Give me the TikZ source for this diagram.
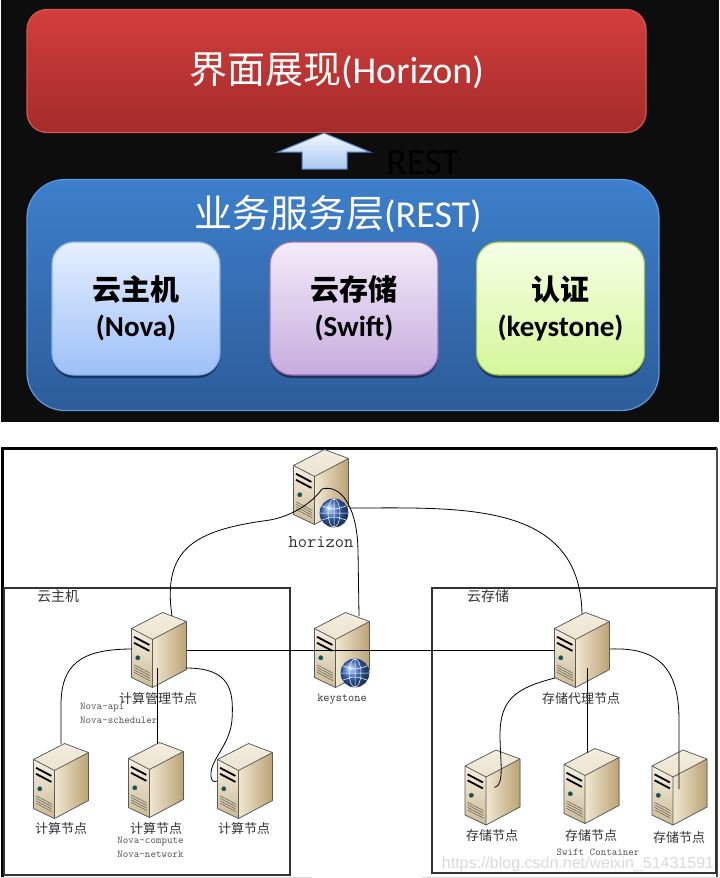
\documentclass[tikz,border=0pt]{standalone}
\usepackage{fontspec}
\setmainfont{Carlito}
\newfontfamily\cjk{Noto Sans CJK SC}
\newfontfamily\wmfont{Liberation Sans}
\usepackage{tikz}
\usetikzlibrary{shadows}
\newcommand{\titlesize}{\fontsize{38}{40}\selectfont}
\definecolor{bgdark}{HTML}{0D0D0D}
\definecolor{uitop}{HTML}{D23E3C}
\definecolor{uibot}{HTML}{A52B2B}
\definecolor{uiedge}{HTML}{D95552}
\definecolor{svctop}{HTML}{3D7FCB}
\definecolor{svcbot}{HTML}{2D5C99}
\definecolor{svcedge}{HTML}{5C9BE2}
\definecolor{novatop}{HTML}{E6EFFF}
\definecolor{novabot}{HTML}{9DC0F7}
\definecolor{novaedge}{HTML}{86AEEB}
\definecolor{swifttop}{HTML}{F3EBF9}
\definecolor{swiftbot}{HTML}{C7ACDE}
\definecolor{swiftedge}{HTML}{9C70BC}
\definecolor{keytop}{HTML}{F5FFE6}
\definecolor{keybot}{HTML}{D5F69A}
\definecolor{keyedge}{HTML}{97C24C}
\definecolor{arrtop}{HTML}{F2F7FF}
\definecolor{arrbot}{HTML}{A9C9F1}
\definecolor{arredge}{HTML}{4D7FC0}
\definecolor{srvtop}{HTML}{F4EEDF}
\definecolor{srvfront}{HTML}{F6F0E2}
\definecolor{srvside}{HTML}{F0E7D2}
\definecolor{srvdark}{HTML}{BBA373}
\definecolor{srvline}{HTML}{5A5A5A}
\definecolor{globeblue}{HTML}{3F74D0}
\definecolor{globeedge}{HTML}{1E3C7E}
\definecolor{labelgray}{HTML}{333333}
\definecolor{svcgray}{HTML}{555555}
\definecolor{markgray}{HTML}{DADADA}
\tikzset{
  every picture/.style = {
    x = 1pt,
    y = -1pt,
  }
  , % big boxes of the layers
  panel/.style = {
    rounded corners = #1,
    line width = 1.2pt,
    inner sep = 0pt,
    text = white
  }
  , % service boxes inside the layer
  tile/.style = {
    rounded corners = 22pt,
    line width = 1.2pt,
    minimum width = 168,
    minimum height = 133,
    align = center,
    font = \bfseries\fontsize{29}{36}\selectfont,
    drop shadow = {shadow xshift=0pt, shadow yshift=-3pt, opacity=0.45, fill=black}
  }
  ,
  uparrow/.style = {
    draw = arredge,
    line width = 1pt,
    top color = arrtop,
    bottom color = arrbot
  }
  ,
  group/.style = {
    draw = black!80,
    line width = 1.2pt
  }
  ,
  link/.style = {
    draw,
    line width = 0.8pt
  }
  , % labels of groups
  grouplabel/.style = {
    font = \cjk\fontsize{14}{14}\selectfont,
    text = labelgray,
    inner sep = 0pt
  }
  , % labels of servers
  cnlabel/.style = {
    font = \cjk\fontsize{13}{13}\selectfont,
    text = labelgray,
    inner sep = 0pt
  }
  ,
  hostlabel/.style = {
    text = labelgray,
    inner sep = 0pt
  }
  , % services running on a server
  svclabel/.style = {
    font = \ttfamily\fontsize{10.5}{13.5}\selectfont,
    text = svcgray,
    inner sep = 0pt
  }
  ,
  marklabel/.style = {
    font = \wmfont\fontsize{16}{16}\selectfont,
    text = markgray,
    inner sep = 0pt
  }
  ,
  server/.pic = {
    \fill[top color=srvtop, bottom color=srvtop!85!srvdark]
      (3.5,-37.5) -- (-27.5,-21.5) -- (-6.5,-10.5) -- (27.5,-28.5) -- cycle;
    \fill[top color=srvfront, bottom color=srvdark!70!srvfront]
      (-27.5,-21.5) -- (-6.5,-10.5) -- (-6.5,37.5) -- (-27.5,27.5) -- cycle;
    \fill[left color=srvside, right color=srvdark]
      (-6.5,-10.5) -- (27.5,-28.5) -- (27.5,19.5) -- (-6.5,37.5) -- cycle;
    \draw[srvline, line width=0.7pt, line join=round]
      (3.5,-37.5) -- (-27.5,-21.5) -- (-27.5,27.5) -- (-6.5,37.5) -- (27.5,19.5) -- (27.5,-28.5) -- cycle
      (-27.5,-21.5) -- (-6.5,-10.5) -- (27.5,-28.5)
      (-6.5,-10.5) -- (-6.5,37.5);
    % drive bays
    \draw[line width=1.8pt] (-25,-13.2) -- (-9.6,-5.1);
    \draw[line width=1.8pt] (-25,-7.2) -- (-9.6,0.9);
    \filldraw[fill=teal!70!black, draw=srvline, line width=0.4pt] (-21.2,7.8) circle (2.2);
    \foreach \v in {35,37.5,40,42.5}
      \draw[srvline, line width=0.5pt] (-25,-20.2+\v) -- (-9,-11.8+\v);
    \coordinate (-c) at (0,0);
  }
  ,
  netglobe/.pic = {
    \shade[ball color=globeblue] (0,0) circle (14);
    \draw[globeedge, line width=0.8pt] (0,0) circle (14);
    \draw[white, line width=0.5pt] (0,0) ellipse (6 and 14) (0,-14) -- (0,14) (-14,0) -- (14,0)
      (-12,-7) .. controls (0,-3) .. (12,-7) (-12,7) .. controls (0,3) .. (12,7);
  }
}
\begin{document}
\begin{tikzpicture}
  \useasboundingbox (0,0) rectangle (720,878);
  \fill[white] (0,0) rectangle (720,878);
  \fill[bgdark] (1,0) rectangle (718.5,422);

  % layers
  \node at (336.5,71) [panel=20, draw=uiedge, top color=uitop, bottom color=uibot,
    minimum width=619, minimum height=123, font=\titlesize] (ui) {{\cjk 界面展现}(Horizon)};
  \node at (343,295) [panel=38, draw=svcedge, top color=svctop, bottom color=svcbot,
    minimum width=632, minimum height=231] (svc) {};
  \node at (338,214) [font=\titlesize, text=white] (svct) {{\cjk 业务服务层}(REST)};
  \node at (136,308.5) [tile, draw=novaedge, top color=novatop, bottom color=novabot] (nova) {{\cjk 云主机}\\(Nova)};
  \node at (354,308.5) [tile, draw=swiftedge, top color=swifttop, bottom color=swiftbot] (swift) {{\cjk 云存储}\\(Swift)};
  \node at (560.5,308.5) [tile, draw=keyedge, top color=keytop, bottom color=keybot] (key) {{\cjk 认证}\\(keystone)};
  \draw[uparrow] (324,133) -- (370,152) -- (347,152) -- (347,169) -- (302,169) -- (302,152) -- (278,152) -- cycle;
  \node at (423,162.5) [font=\fontsize{37}{40}\selectfont, text=black] (rest) {REST};

  % deployment
  \draw[line width=3pt] (2,878) -- (2,448) -- (717,448);
  \draw[line width=2.5pt, black!70] (717,448) -- (717,878);
  \draw[group] (4,588) rectangle (290,875);
  \draw[group] (432,588) rectangle (716,873);
  \draw[black!15] (0,877.5) -- (312,877.5) (422,877.5) -- (718,877.5);
  \node at (58,596) [grouplabel] (vmg) {云主机};
  \node at (488,596) [grouplabel] (stg) {云存储};

  \pic (hz) at (321,487) {server};
  \pic (mg) at (159,650) {server};
  \pic (ks) at (342,650) {server};
  \pic (pr) at (582,650) {server};
  \pic (c1) at (61,781) {server};
  \pic (c2) at (156,780) {server};
  \pic (c3) at (245,781) {server};
  \pic (s1) at (492.5,787.5) {server};
  \pic (s2) at (591.5,786) {server};
  \pic (s3) at (679.5,787.5) {server};
  \pic at ([shift={(13,26)}]hz-c) {netglobe};
  \pic at ([shift={(13,23)}]ks-c) {netglobe};

  \draw[link] ([shift={(1,2)}]hz-c) .. controls (312,503) and (292,516) .. (270,520)
    .. controls (195,530) and (162,548) .. ([shift={(13,-34)}]mg-c);
  \draw[link] ([shift={(1,2)}]hz-c) .. controls (340,484) and (357,505) .. (358,550)
    -- ([shift={(17,-34)}]ks-c);
  \draw[link] ([shift={(28,21)}]hz-c) .. controls (460,508) and (580,500) .. ([shift={(0,-36)}]pr-c);
  \path ([shift={(27.5,0)}]mg-c) edge [link] ([shift={(-27.5,0)}]pr-c);
  \draw[link] ([shift={(-27,-1)}]mg-c) .. controls (80,649) and (61,665) .. (61,705)
    -- ([shift={(0,-37)}]c1-c);
  \path ([shift={(-2,18)}]mg-c) edge [link] ([shift={(1,-36)}]c2-c);
  \draw[link] ([shift={(27,18)}]mg-c) .. controls (230,668) and (234,690) .. (232,720)
    .. controls (230,745) and (210,760) .. (211,775)
    .. controls (211,782) and (214,782) .. ([shift={(-28,0)}]c3-c);
  \draw[link] ([shift={(-27,28)}]pr-c) .. controls (515,688) and (500,700) .. (500,735)
    .. controls (500,760) and (505,785) .. ([shift={(2,0)}]s1-c);
  \path ([shift={(5,18)}]pr-c) edge [link] ([shift={(-4.5,-33)}]s2-c);
  \draw[link] ([shift={(28,-1)}]pr-c) .. controls (660,647) and (679,670) .. (679,720)
    -- ([shift={(-0.5,1.5)}]s3-c);

  \node at (321,542) [hostlabel, font=\ttfamily\fontsize{18}{18}\selectfont] (hzl) {horizon};
  \node at (158,699) [cnlabel] (mgl) {计算管理节点};
  \node at (80,703) [svclabel, anchor=north west, align=left] (mgs) {Nova-api\\Nova-scheduler};
  \node at (342,699) [hostlabel, font=\ttfamily\fontsize{12}{12}\selectfont] (ksl) {keystone};
  \node at (581,699) [cnlabel] (prl) {存储代理节点};
  \node at (61,829) [cnlabel] (c1l) {计算节点};
  \node at (156,829) [cnlabel] (c2l) {计算节点};
  \node at (244,829) [cnlabel] (c3l) {计算节点};
  \node at (150.5,847.5) [svclabel, align=center] (c2s) {Nova-compute\\Nova-network};
  \node at (492,836) [cnlabel] (s1l) {存储节点};
  \node at (591,836) [cnlabel] (s2l) {存储节点};
  \node at (679,837.5) [cnlabel] (s3l) {存储节点};
  \node at (578,864.5) [marklabel] (wm) {https://blog.csdn.net/weixin\_51431591};
  \node at (598,852) [svclabel] (s2s) {Swift Container};
\end{tikzpicture}
\end{document}
